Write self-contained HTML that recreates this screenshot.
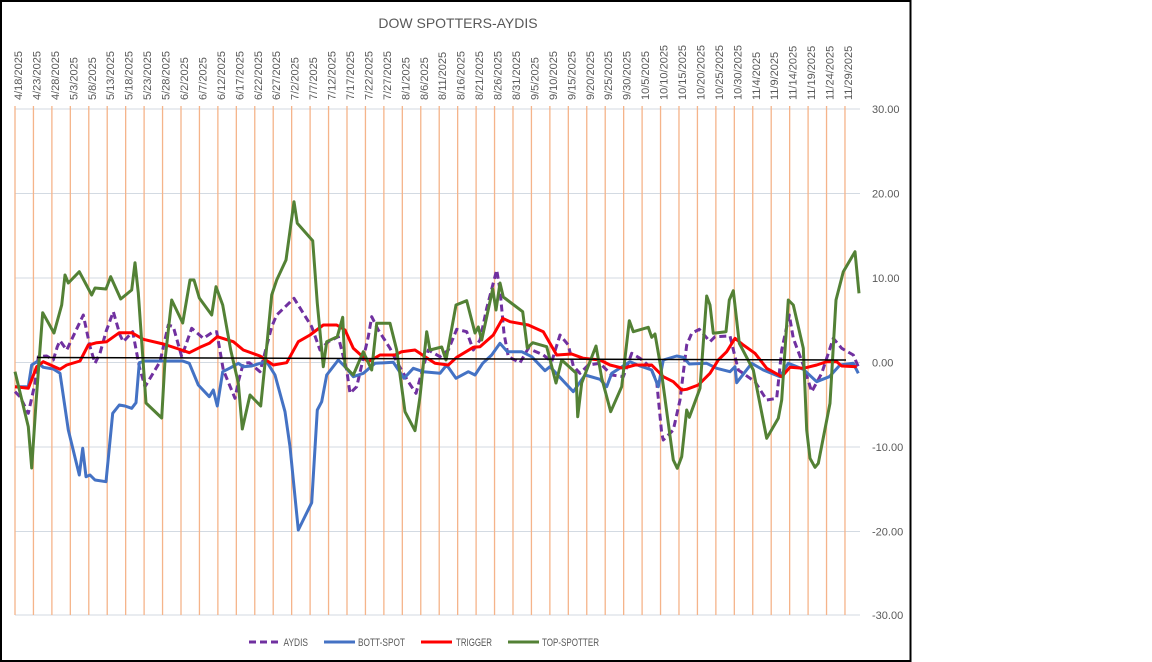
<!DOCTYPE html>
<html><head><meta charset="utf-8"><style>
html,body{margin:0;padding:0;background:#fff;}
svg{display:block;}
text{font-family:"Liberation Sans",sans-serif;fill:#595959;}
</style></head><body>
<svg width="1152" height="662" viewBox="0 0 1152 662" xmlns="http://www.w3.org/2000/svg">
<rect x="0" y="0" width="1152" height="662" fill="#fff"/>
<rect x="1" y="1" width="909.5" height="660" fill="none" stroke="#000" stroke-width="2"/>
<text x="458" y="28" font-size="14" text-anchor="middle">DOW SPOTTERS-AYDIS</text>
<g stroke="#D3DAE2" stroke-width="1">
<line x1="15" y1="109" x2="860" y2="109"/>
<line x1="15" y1="193.5" x2="860" y2="193.5"/>
<line x1="15" y1="278" x2="860" y2="278"/>
<line x1="15" y1="362.5" x2="860" y2="362.5"/>
<line x1="15" y1="447" x2="860" y2="447"/>
<line x1="15" y1="531.5" x2="860" y2="531.5"/>
<line x1="15" y1="615" x2="860" y2="615"/>
</g>
<g font-size="11">
<text x="872" y="113">30.00</text>
<text x="872" y="197.5">20.00</text>
<text x="872" y="282">10.00</text>
<text x="872" y="366.5">0.00</text>
<text x="872" y="451">-10.00</text>
<text x="872" y="535.5">-20.00</text>
<text x="872" y="619">-30.00</text>
</g>
<g stroke="#F5B48A" stroke-width="1.3">
<line x1="15" y1="106" x2="15" y2="615"/>
<line x1="33.44" y1="106" x2="33.44" y2="615"/>
<line x1="51.89" y1="106" x2="51.89" y2="615"/>
<line x1="70.33" y1="106" x2="70.33" y2="615"/>
<line x1="88.78" y1="106" x2="88.78" y2="615"/>
<line x1="107.22" y1="106" x2="107.22" y2="615"/>
<line x1="125.66" y1="106" x2="125.66" y2="615"/>
<line x1="144.11" y1="106" x2="144.11" y2="615"/>
<line x1="162.55" y1="106" x2="162.55" y2="615"/>
<line x1="181" y1="106" x2="181" y2="615"/>
<line x1="199.44" y1="106" x2="199.44" y2="615"/>
<line x1="217.88" y1="106" x2="217.88" y2="615"/>
<line x1="236.33" y1="106" x2="236.33" y2="615"/>
<line x1="254.77" y1="106" x2="254.77" y2="615"/>
<line x1="273.22" y1="106" x2="273.22" y2="615"/>
<line x1="291.66" y1="106" x2="291.66" y2="615"/>
<line x1="310.1" y1="106" x2="310.1" y2="615"/>
<line x1="328.55" y1="106" x2="328.55" y2="615"/>
<line x1="346.99" y1="106" x2="346.99" y2="615"/>
<line x1="365.44" y1="106" x2="365.44" y2="615"/>
<line x1="383.88" y1="106" x2="383.88" y2="615"/>
<line x1="402.32" y1="106" x2="402.32" y2="615"/>
<line x1="420.77" y1="106" x2="420.77" y2="615"/>
<line x1="439.21" y1="106" x2="439.21" y2="615"/>
<line x1="457.66" y1="106" x2="457.66" y2="615"/>
<line x1="476.1" y1="106" x2="476.1" y2="615"/>
<line x1="494.54" y1="106" x2="494.54" y2="615"/>
<line x1="512.99" y1="106" x2="512.99" y2="615"/>
<line x1="531.43" y1="106" x2="531.43" y2="615"/>
<line x1="549.88" y1="106" x2="549.88" y2="615"/>
<line x1="568.32" y1="106" x2="568.32" y2="615"/>
<line x1="586.76" y1="106" x2="586.76" y2="615"/>
<line x1="605.21" y1="106" x2="605.21" y2="615"/>
<line x1="623.65" y1="106" x2="623.65" y2="615"/>
<line x1="642.1" y1="106" x2="642.1" y2="615"/>
<line x1="660.54" y1="106" x2="660.54" y2="615"/>
<line x1="678.98" y1="106" x2="678.98" y2="615"/>
<line x1="697.43" y1="106" x2="697.43" y2="615"/>
<line x1="715.87" y1="106" x2="715.87" y2="615"/>
<line x1="734.32" y1="106" x2="734.32" y2="615"/>
<line x1="752.76" y1="106" x2="752.76" y2="615"/>
<line x1="771.2" y1="106" x2="771.2" y2="615"/>
<line x1="789.65" y1="106" x2="789.65" y2="615"/>
<line x1="808.09" y1="106" x2="808.09" y2="615"/>
<line x1="826.54" y1="106" x2="826.54" y2="615"/>
<line x1="844.98" y1="106" x2="844.98" y2="615"/>
</g>
<g font-size="11">
<text transform="translate(22,100) rotate(-90)">4/18/2025</text>
<text transform="translate(40.44,100) rotate(-90)">4/23/2025</text>
<text transform="translate(58.89,100) rotate(-90)">4/28/2025</text>
<text transform="translate(77.33,100) rotate(-90)">5/3/2025</text>
<text transform="translate(95.78,100) rotate(-90)">5/8/2025</text>
<text transform="translate(114.22,100) rotate(-90)">5/13/2025</text>
<text transform="translate(132.66,100) rotate(-90)">5/18/2025</text>
<text transform="translate(151.11,100) rotate(-90)">5/23/2025</text>
<text transform="translate(169.55,100) rotate(-90)">5/28/2025</text>
<text transform="translate(188,100) rotate(-90)">6/2/2025</text>
<text transform="translate(206.44,100) rotate(-90)">6/7/2025</text>
<text transform="translate(224.88,100) rotate(-90)">6/12/2025</text>
<text transform="translate(243.33,100) rotate(-90)">6/17/2025</text>
<text transform="translate(261.77,100) rotate(-90)">6/22/2025</text>
<text transform="translate(280.22,100) rotate(-90)">6/27/2025</text>
<text transform="translate(298.66,100) rotate(-90)">7/2/2025</text>
<text transform="translate(317.1,100) rotate(-90)">7/7/2025</text>
<text transform="translate(335.55,100) rotate(-90)">7/12/2025</text>
<text transform="translate(353.99,100) rotate(-90)">7/17/2025</text>
<text transform="translate(372.44,100) rotate(-90)">7/22/2025</text>
<text transform="translate(390.88,100) rotate(-90)">7/27/2025</text>
<text transform="translate(409.32,100) rotate(-90)">8/1/2025</text>
<text transform="translate(427.77,100) rotate(-90)">8/6/2025</text>
<text transform="translate(446.21,100) rotate(-90)">8/11/2025</text>
<text transform="translate(464.66,100) rotate(-90)">8/16/2025</text>
<text transform="translate(483.1,100) rotate(-90)">8/21/2025</text>
<text transform="translate(501.54,100) rotate(-90)">8/26/2025</text>
<text transform="translate(519.99,100) rotate(-90)">8/31/2025</text>
<text transform="translate(538.43,100) rotate(-90)">9/5/2025</text>
<text transform="translate(556.88,100) rotate(-90)">9/10/2025</text>
<text transform="translate(575.32,100) rotate(-90)">9/15/2025</text>
<text transform="translate(593.76,100) rotate(-90)">9/20/2025</text>
<text transform="translate(612.21,100) rotate(-90)">9/25/2025</text>
<text transform="translate(630.65,100) rotate(-90)">9/30/2025</text>
<text transform="translate(649.1,100) rotate(-90)">10/5/2025</text>
<text transform="translate(667.54,100) rotate(-90)">10/10/2025</text>
<text transform="translate(685.98,100) rotate(-90)">10/15/2025</text>
<text transform="translate(704.43,100) rotate(-90)">10/20/2025</text>
<text transform="translate(722.87,100) rotate(-90)">10/25/2025</text>
<text transform="translate(741.32,100) rotate(-90)">10/30/2025</text>
<text transform="translate(759.76,100) rotate(-90)">11/4/2025</text>
<text transform="translate(778.2,100) rotate(-90)">11/9/2025</text>
<text transform="translate(796.65,100) rotate(-90)">11/14/2025</text>
<text transform="translate(815.09,100) rotate(-90)">11/19/2025</text>
<text transform="translate(833.54,100) rotate(-90)">11/24/2025</text>
<text transform="translate(851.98,100) rotate(-90)">11/29/2025</text>
</g>
<g fill="none" stroke-width="3" stroke-linejoin="round">
<polyline stroke="#7030A0" stroke-dasharray="7,4" points="15,391.7 20,396.7 28.3,413.3 35,383.3 38.3,356.7 46.7,356 53.3,360 57.3,346.7 60,340.7 66.7,350 83.3,315 90,346.7 95,363.3 100,353.3 106,331.7 113.3,311.7 120,335 123.3,341.7 132.7,331.7 139.3,366.7 145,386.7 160,361.7 168.3,325 173.3,326.7 181.7,356.7 191.7,328.3 203.3,338.3 213.3,331.7 216.7,331.7 223.3,370 235,398.3 238.3,381.7 243.3,363.3 249.3,362.7 260,371.7 271.7,326.7 276.7,315 294,298.3 311.7,326.7 320,350 328.3,341.7 338.3,336.7 346.7,370 350,393.3 356.7,386.7 368.3,336.7 371.7,316.7 378.3,330 390,348.3 396.7,361.7 408.3,381.7 416,393.3 423.3,366.7 428.3,350 440,356.7 448.3,350 456.7,329.3 466.7,331.7 473.3,350 480,340 486.7,308.3 496.7,270 500,290 504,333.3 508.3,356.7 520,362.7 528.3,348.3 543.3,355 551.7,361.7 560,335 568.3,345 573.3,366 580,373.3 588.3,365 600,363.3 611.7,375 623.3,376.7 631.7,353.3 640,358.3 650,366.7 656.7,381.7 661.7,433.3 663.3,440 673.3,430 680,400 686.7,345 691.7,333.3 699.3,329.3 710,341.7 715,336.7 730,336 735,356.7 738.3,370 755,381.7 766.7,400 776.7,398.3 781.7,350 789.3,315 793.3,338.3 803.3,365 811.7,391.7 821.7,373.3 833.3,338.3 841.7,348.3 853.3,355 858.3,366.7"/>
<polyline stroke="#4472C4" points="15,386.7 28.3,386.7 31.7,365 36.7,361.7 43.3,367.3 53.3,369 60,373.3 68.3,430 79.3,475 82.7,448.3 86,476.7 90,475 95,480 106,481.7 112.7,413.3 119.3,405 125,406 131.7,408.3 136,402.7 139.3,362.7 145,361 182.7,361 189.3,363.3 198.3,385 209.3,396.7 213.3,390 217.3,406 222.7,371.7 230.7,367.7 238.3,363.3 243.3,366.7 251.7,366 260,363.3 266.7,361.7 275,375 285,411.7 290,446.7 298.3,530 311.7,502.7 317.3,410 321.7,401.7 326.7,375 338.3,360 345,366.7 353.3,376.7 363.3,373.3 375,363.3 393.3,362.3 404,378.3 413.3,368.3 423.3,371.7 440,373.3 446.7,365 456,378.3 468.3,371.7 475,375 482.7,363.3 491.7,355 500,343.3 507.3,351.7 521.7,351.7 531.7,356.7 545,370.7 550,366.7 573.3,391.7 585,375 600,379.3 606.7,386.7 611.7,373.3 630,361.7 640,366 651.7,370 658.3,386.7 663.3,360 676.7,356 683.3,357.3 689.3,364 706.7,363.3 716.7,368.3 730,371.7 735,366.7 736.7,382.7 751.7,363.3 763.3,370 780,376.7 788.3,363.3 803.3,369.3 816.7,381.7 829.3,376.7 840,365 853.3,363.3 858.3,373.3"/>
<polyline stroke="#FF0000" points="15,386.7 28.3,388.3 36.7,366.7 43.3,361.7 60,369.3 66.7,365 80,361 88.3,345 96.7,342.7 106.7,341.7 119.3,332.7 131.7,332.7 143.3,339.3 163.3,344 181.7,350 189.3,352.7 200,347.3 209.3,343.3 217.3,336.7 233.3,341.7 243.3,350 260,356 273.3,365 286.7,362.7 298.3,341.7 310,335 323.3,325 336.7,325 345,330 353.3,348.3 368.3,361.7 380,355 395,355 401.7,351.7 415,350 430,360 435,363.3 448.3,365 456.7,357.3 473.3,347.3 480,346.7 493.3,335 502.7,318.3 510,321.7 528.3,325 543.3,331.7 556.7,355 571.7,354 583.3,358.3 600,360 610,365 623.3,368.3 635,365 651.7,365 663.3,376.7 673.3,381.7 681.7,390 686.7,389.3 698.3,385 710,373.3 718.3,360 726.7,351.7 735,338.3 743.3,345 755,353.3 766.7,368.3 781.7,376.7 790,367.3 803.3,368.3 816.7,365 826.7,361.7 836.7,361.7 841.7,366 856.7,366.7"/>
<polyline stroke="#538135" points="15,371.7 28.3,426.7 31.7,468 36,403 42.7,312.7 54,333 61.7,305 65,275 68.3,283 79.3,271.7 91.7,295 95,288 106,289 110.7,276.7 120.7,299 131.7,290 135,262.7 138.3,293 146,403 161.7,418 165,360 171.7,300 182.7,323 190,280 194,280 199.3,298 211.7,315 216,286.7 222.7,305 230.7,350 238.3,383 242.3,429 250,395 260.7,406 266.7,346.7 271.7,295 276.7,280 286,260 294,201.7 297.3,223.3 312.7,240.7 317.3,303.3 323.3,366.7 326.7,341.7 337.3,336.7 342.7,317.3 345,366.7 353.3,375 363.3,351.7 371.7,370 376.7,323.3 390,323.3 396.7,350 405,411.7 415,430.7 420,396.7 426.7,331.7 430,350 441.7,347 446,360 456,305 466.7,300.7 475,333 478.3,327 481.7,340 492.7,289 496,310 500,283 503.3,297 522.7,311.7 527.3,348 532.7,342.7 546.7,346.7 556,383 561.7,360 576,373 577.7,416.7 581.7,383 596,346 601.7,378 610.7,411.7 621.7,386.7 629.3,320.7 633.3,331.7 648.3,327.3 651.7,337.3 655,334 660.7,366.7 668.3,423.3 673.3,460 677.3,468.3 681.7,456.7 686.7,410 689.3,417.3 700,388.3 706.7,296 710,305 713.3,333.3 726,331.7 729.3,300 733.3,290.7 739.3,343.3 753.3,370 766.7,438.3 778.3,418.3 781.7,400 788.3,300 793.3,305 803.3,348.3 806.7,430 810,458.3 815,467.3 818.3,463.3 830,403.3 836,300 843.3,271.7 855,251.7 859,293.3"/>
</g>
<line x1="37" y1="357.5" x2="846" y2="360" stroke="#000" stroke-width="1.5"/>
<g stroke-width="3" fill="none">
<line x1="249" y1="642" x2="280" y2="642" stroke="#7030A0" stroke-dasharray="7,4"/>
<line x1="324" y1="642" x2="355" y2="642" stroke="#4472C4"/>
<line x1="421" y1="642" x2="452" y2="642" stroke="#FF0000"/>
<line x1="508" y1="642" x2="539" y2="642" stroke="#538135"/>
</g>
<g font-size="11">
<text x="283.5" y="646" textLength="24.5" lengthAdjust="spacingAndGlyphs">AYDIS</text>
<text x="358" y="646" textLength="47" lengthAdjust="spacingAndGlyphs">BOTT-SPOT</text>
<text x="456" y="646" textLength="36" lengthAdjust="spacingAndGlyphs">TRIGGER</text>
<text x="542" y="646" textLength="57" lengthAdjust="spacingAndGlyphs">TOP-SPOTTER</text>
</g>
</svg>
</body></html>
